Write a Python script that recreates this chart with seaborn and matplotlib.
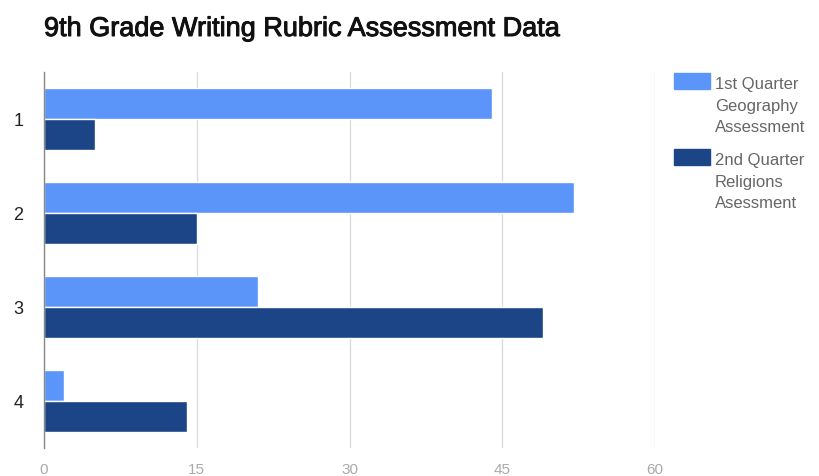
import matplotlib
matplotlib.use("Agg")
import matplotlib.pyplot as plt
from matplotlib.patches import Rectangle
import matplotlib.patheffects as pe
import seaborn as sns
import pandas as pd

# Rubric score levels and the number of students at each level
categories = ["1", "2", "3", "4"]
series_names = ["1st Quarter\nGeography\nAssessment", "2nd Quarter\nReligions\nAsessment"]
q1_geography = [44, 52, 21, 2]
q2_religions = [5, 15, 49, 14]
x_ticks = [0, 15, 30, 45, 60]

colors = ["#5B95F9", "#1C4587"]

df = pd.DataFrame({
    "level": categories * 2,
    "count": q1_geography + q2_religions,
    "series": [series_names[0]] * len(categories) + [series_names[1]] * len(categories),
})

sns.set_theme(style="white")
plt.rcParams["font.family"] = ["Liberation Sans", "DejaVu Sans"]

W, H = 819, 477
fig = plt.figure(figsize=(W / 100, H / 100), dpi=100)
ax = fig.add_axes([44 / W, 1 - 449 / H, (655 - 44) / W, (449 - 73) / H])

sns.barplot(data=df, x="count", y="level", hue="series", orient="h",
            palette=colors, width=0.657, saturation=1, ax=ax, legend=False,
            order=categories, hue_order=series_names)

ax.set_xlim(0, 60)
ax.set_ylim(3.5, -0.5)
ax.set_xticks(x_ticks)
ax.set_xticklabels([str(t) for t in x_ticks], color="#aaaaaa", fontsize=11)
ax.tick_params(axis="x", length=0, pad=10)
ax.tick_params(axis="y", length=0, pad=15, labelsize=13, labelcolor="#222222")
ax.set_xlabel("")
ax.set_ylabel("")
ax.xaxis.grid(True, color="#dddddd", linewidth=1)
ax.set_axisbelow(True)
for side in ["top", "right", "bottom"]:
    ax.spines[side].set_visible(False)
ax.spines["left"].set_color("#888888")
ax.spines["left"].set_linewidth(1)

fig.text(44 / W, 1 - 37 / H, "9th Grade Writing Rubric Assessment Data",
         fontsize=19.5, color="#111111", va="baseline", ha="left",
         path_effects=[pe.withStroke(linewidth=0.7, foreground="#111111")])

# Legend: a swatch beside each wrapped series name, top-aligned
entry_tops = [74, 150]
line_step = 21.5
for name, color, top in zip(series_names, colors, entry_tops):
    fig.add_artist(Rectangle((674 / W, 1 - (top + 16) / H), 36 / W, 16 / H,
                             transform=fig.transFigure, color=color))
    for i, line in enumerate(name.split("\n")):
        baseline = top + 15 + i * line_step
        fig.text(715 / W, 1 - baseline / H, line, fontsize=12,
                 color="#666666", va="baseline", ha="left")

fig.savefig("out.png", dpi=100)
